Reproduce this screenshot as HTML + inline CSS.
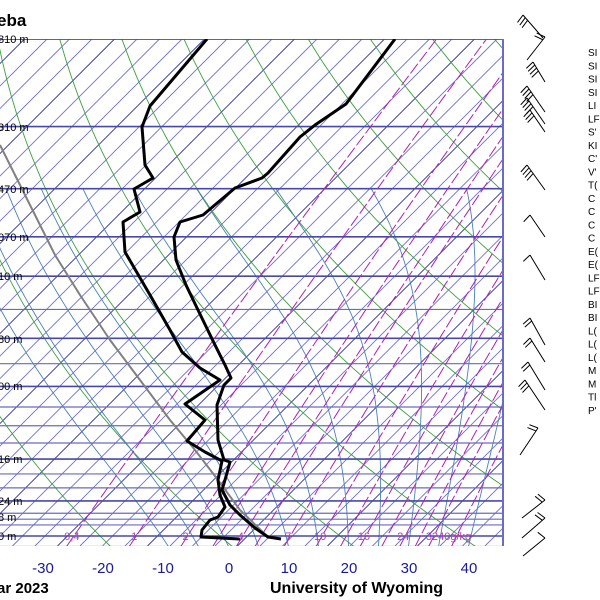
<!DOCTYPE html>
<html><head><meta charset="utf-8">
<style>
html,body{margin:0;padding:0;background:#fff;}
body{width:600px;height:600px;overflow:hidden;position:relative;font-family:"Liberation Sans",sans-serif;}
svg{position:absolute;left:0;top:0;}
</style></head>
<body>
<svg id="s" width="600" height="600" viewBox="0 0 600 600" xmlns="http://www.w3.org/2000/svg">
<defs><clipPath id="c"><rect x="0" y="39" width="503" height="507"/></clipPath></defs>
<g id="grid" clip-path="url(#c)"></g>
<g id="traces" clip-path="url(#c)" fill="none" stroke-linejoin="round">
<polyline stroke="#808080" stroke-width="2" points="268,537 240,510 218,480 195,450 170,420 140,380 110,340 80,295 55,255 30,205 10,165 0,145"/>
<polyline stroke="#000" stroke-width="3" points="395,39 346,104 315,125 300,137 268,173 262,178 235,188 203,215 180,222 174,237 176,260 186,285 198,310 215,345 225,365 231,378 224,385 217,405 218,440 224,460 230,462 225,480 222,490 230,505 240,515 255,528 268,537 281,539"/>
<polyline stroke="#000" stroke-width="3" points="207,39 150,106 142,127 145,165 153,178 134,189 140,212 123,222 125,252 150,295 170,330 182,352 200,368 220,380 185,404 205,420 187,441 205,452 222,461 218,480 220,495 225,507 218,517 210,520 202,530 201,537 240,539"/>
</g>
<line x1="503" y1="39" x2="503" y2="546" stroke="#6a6ac8" stroke-width="2"/>
<g font-family="Liberation Sans,sans-serif" font-size="11" fill="#000">
<text x="-2" y="43">810 m</text>
<text x="-2" y="131">310 m</text>
<text x="-2" y="193">470 m</text>
<text x="-2" y="241">070 m</text>
<text x="-2" y="280">10 m</text>
<text x="-2" y="343">80 m</text>
<text x="-2" y="390">00 m</text>
<text x="-2" y="463">16 m</text>
<text x="-2" y="505">24 m</text>
<text x="-2" y="521">8 m</text>
<text x="-2" y="540">0 m</text>
</g>
<g id="mrl" font-family="Liberation Sans,sans-serif" font-size="11" fill="#b040b0"></g>
<text x="-3" y="26" font-family="Liberation Sans,sans-serif" font-size="17" font-weight="bold">eba</text>
<g font-family="Liberation Sans,sans-serif" font-size="15" fill="#1a1a9a" text-anchor="middle">
<text x="43" y="573">-30</text><text x="103" y="573">-20</text><text x="163" y="573">-10</text><text x="229" y="573">0</text>
<text x="289" y="573">10</text><text x="349" y="573">20</text><text x="409" y="573">30</text><text x="469" y="573">40</text>
</g>
<text x="-3" y="593" font-family="Liberation Sans,sans-serif" font-size="15" font-weight="bold">ar 2023</text>
<text x="270" y="593" font-family="Liberation Sans,sans-serif" font-size="16" font-weight="bold">University of Wyoming</text>
<g id="barbs" stroke="#000" stroke-width="1" fill="none"></g>
<g id="idx" font-family="Liberation Sans,sans-serif" font-size="10" fill="#000"></g>
</svg>
<script>
var NS="http://www.w3.org/2000/svg";
function el(p,t,a){var e=document.createElementNS(NS,t);for(var k in a)e.setAttribute(k,a[k]);p.appendChild(e);return e;}
var g=document.getElementById('grid');
function Y(p){return 536-215.8*Math.log(1000/p);}
function X(T,y){return 229+6*T+(546-y);}
var k=0;
for(var x0=35-22.5*30;x0<1200;x0+=22.5){k++;
 el(g,'line',{x1:x0,y1:546,x2:x0+507,y2:39,stroke:(k%4==0)?'#3030a8':'#7070cc','stroke-width':0.9});
}
for(var th=230;th<=520;th+=20){
 var pts=[];for(var p=1050;p>=100;p-=10){var T=th*Math.pow(p/1000,0.286)-273.15;var y=Y(p);pts.push(X(T,y).toFixed(1)+','+y.toFixed(1));}
 el(g,'polyline',{points:pts.join(' '),fill:'none',stroke:'#3ca03c','stroke-width':0.9});
}
function es(T){return 6.112*Math.exp(17.67*T/(T+243.5));}
for(var T0=-10;T0<=40;T0+=5){
 var T=T0+273.15,pts=[];
 for(var p=1050;p>=200;p-=5){
  var y=Y(p);pts.push(X(T-273.15,y).toFixed(1)+','+y.toFixed(1));
  var e=es(T-273.15),rs=0.622*e/(p-e);
  var d=(287*T+2.5e6*rs)/(p*(1004+2.5e6*2.5e6*rs*0.622/(287*T*T)));
  T-=d*5;
 }
 el(g,'polyline',{points:pts.join(' '),fill:'none',stroke:'#4a80b8','stroke-width':0.9});
}
[1050,1000,950,925,900,850,800,750,700,650,600,550,500,450,400,350,300,250,200,150,100].forEach(function(p){
 var y=Y(p);var major=[1000,850,700,500,400,300,250,200,150,100].indexOf(p)>=0;
 el(g,'line',{x1:0,y1:y,x2:503,y2:y,stroke:major?'#4848a8':'#6a6ac0','stroke-width':major?1.6:1.2});
});
var ml=document.getElementById('mrl');
var lab=[0.4,1,2,4,7,10,16,24,32,40];
[0.4,1,2,3,4,5,7,10,13,16,20,24,28,32,40].forEach(function(w){
 var pts=[];for(var p=1050;p>=100;p-=10){var e=w*p/(622+w);var l=Math.log(e/6.112);var T=243.5*l/(17.67-l);var y=Y(p);pts.push(X(T,y).toFixed(1)+','+y.toFixed(1));}
 el(g,'polyline',{points:pts.join(' '),fill:'none',stroke:'#b020b0','stroke-width':1,'stroke-dasharray':'12,3'});
 if(lab.indexOf(w)>=0){
 var e=w*1000/(622+w),l=Math.log(e/6.112),T=243.5*l/(17.67-l);
 var t=el(ml,'text',{x:X(T,536)-2,y:540,'text-anchor':'middle'});t.textContent=(w==0.4?'0,4':w==40?'40g/kg':w);}
});
var b=document.getElementById('barbs');
function barb(x1,y1,x2,y2,n){el(b,'line',{x1:x1,y1:y1,x2:x2,y2:y2});
 var dx=x2-x1,dy=y2-y1,L=Math.hypot(dx,dy),ux=dx/L,uy=dy/L;
 for(var i=0;i<n;i++){var px=x1+ux*i*3.5,py=y1+uy*i*3.5;el(b,'line',{x1:px,y1:py,x2:px-uy*9+ux*2,y2:py+ux*9+uy*2});}}
barb(523,15,543,38,3);barb(545,37,527,60,2);barb(533,62,545,82,4);barb(527,86,545,112,4);barb(527,98,545,124,4);
barb(530,110,545,132,3);barb(527,165,545,190,4);barb(530,215,545,237,1);barb(530,255,545,280,1);
barb(530,318,545,345,2);barb(530,338,545,362,2);barb(528,362,545,390,2);barb(525,380,545,410,3);
barb(538,428,520,455,2);
barb(545,500,522,518,2);barb(545,518,522,538,2);barb(545,538,523,556,1);
var names=['SI','SI','SI','SI','LI','LF','S\'','KI','C\'','V\'','T(','C','C','C','C','E(','E(','LF','LF','BI','BI','L(','L(','L(','M','M','Tl','P\''];
var ix=document.getElementById('idx');
names.forEach(function(n,i){var t=el(ix,'text',{x:588,y:56+i*13.25});t.textContent=n;});
</script>
</body></html>
